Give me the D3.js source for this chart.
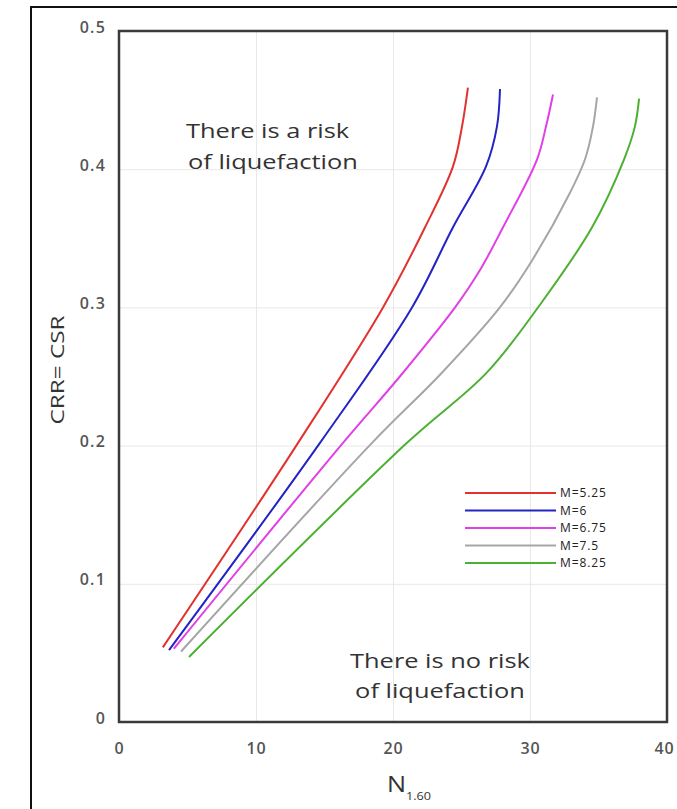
<!DOCTYPE html>
<html>
<head>
<meta charset="utf-8">
<script src="https://cdn.jsdelivr.net/npm/d3@7"></script>
<style>
  body { margin: 0; background: #fff; }
  text { font-family: "Open Sans", "DejaVu Sans", sans-serif; fill: #333; }
</style>
</head>
<body>
<div id="chart"></div>
<script>
// Data: [N1,60, CRR]
var seriesNames = ["M=5.25", "M=6", "M=6.75", "M=7.5", "M=8.25"];
var seriesColors = ["#e2322e", "#2424c4", "#e040e6", "#a6a6a6", "#4cb030"];

var m525 = [[3.2,0.054],[13.07,0.202],[19.27,0.300],[22.34,0.358],[24.38,0.402],[25.04,0.431],[25.47,0.459]];
var m6 = [[3.65,0.052],[14.67,0.202],[21.39,0.300],[24.38,0.358],[26.79,0.402],[27.59,0.431],[27.81,0.458]];
var m675 = [[4.0,0.053],[16.35,0.202],[20.5,0.250],[24.53,0.300],[26.35,0.327],[28.03,0.358],[30.51,0.407],[31.17,0.431],[31.68,0.454]];
var m75 = [[4.53,0.051],[18.47,0.202],[23.5,0.252],[27.8,0.300],[30.15,0.334],[32.92,0.383],[34.01,0.407],[34.6,0.431],[34.89,0.452]];
var m825 = [[5.11,0.047],[21.02,0.202],[26.86,0.253],[30.95,0.305],[34.53,0.358],[36.86,0.407],[37.66,0.431],[37.96,0.451]];
var seriesData = [m525, m6, m675, m75, m825];

var xTicks = [0, 10, 20, 30, 40];
var yTicks = [0, 0.1, 0.2, 0.3, 0.4, 0.5];

var svgWidth = 677;
var svgHeight = 809;
var plot = { left: 119, top: 31, right: 667, bottom: 722 };

var svg = d3.select("#chart")
  .append("svg")
  .attr("width", svgWidth)
  .attr("height", svgHeight);

// outer frame (runs off the right and bottom edges)
svg.append("rect")
  .attr("x", 31).attr("y", 7)
  .attr("width", 700).attr("height", 900)
  .attr("fill", "none")
  .attr("stroke", "#111")
  .attr("stroke-width", 2);

var x = d3.scaleLinear().domain([0, 40]).range([plot.left, plot.right]);
var y = d3.scaleLinear().domain([0, 0.5]).range([plot.bottom, plot.top]);

// gridlines
svg.append("g")
  .attr("transform", `translate(0, ${plot.bottom})`)
  .call(d3.axisBottom(x).tickValues([10, 20, 30]).tickSize(-(plot.bottom - plot.top)).tickFormat(""))
  .call(g => g.select(".domain").remove())
  .call(g => g.selectAll("line").attr("stroke", "#e8e8e8"));

svg.append("g")
  .attr("transform", `translate(${plot.left}, 0)`)
  .call(d3.axisLeft(y).tickValues([0.1, 0.2, 0.3, 0.4]).tickSize(-(plot.right - plot.left)).tickFormat(""))
  .call(g => g.select(".domain").remove())
  .call(g => g.selectAll("line").attr("stroke", "#e8e8e8"));

// tick labels
svg.append("g")
  .attr("transform", `translate(0, ${plot.bottom + 18})`)
  .call(d3.axisBottom(x).tickValues(xTicks).tickSize(0).tickFormat(d3.format("d")))
  .call(g => g.select(".domain").remove())
  .call(g => g.selectAll("text")
    .attr("font-family", null)
    .attr("dx", d => d === 40 ? -3 : 0)
    .style("font-size", "16px")
    .style("font-weight", "600")
    .style("letter-spacing", "0.8px")
    .style("fill", "#555"));

svg.append("g")
  .attr("transform", `translate(${plot.left - 10}, -4)`)
  .call(d3.axisLeft(y).tickValues(yTicks).tickSize(0).tickFormat(d => d === 0 ? "0" : d3.format(".1f")(d)))
  .call(g => g.select(".domain").remove())
  .call(g => g.selectAll("text")
    .attr("font-family", null)
    .style("font-size", "16px")
    .style("font-weight", "600")
    .style("letter-spacing", "1.2px")
    .style("fill", "#555"));

// curves
var line = d3.line()
  .x(d => x(d[0]))
  .y(d => y(d[1]))
  .curve(d3.curveCatmullRom.alpha(0.5));

svg.append("g")
  .selectAll("path")
  .data(seriesData)
  .enter()
  .append("path")
  .attr("d", line)
  .attr("fill", "none")
  .attr("stroke", (d, i) => seriesColors[i])
  .attr("stroke-width", 2);

// plot frame
svg.append("rect")
  .attr("x", plot.left).attr("y", plot.top)
  .attr("width", plot.right - plot.left)
  .attr("height", plot.bottom - plot.top)
  .attr("fill", "none")
  .attr("stroke", "#3a3a3a")
  .attr("stroke-width", 2.5);

// legend
var legend = svg.append("g")
  .attr("transform", "translate(465, 493)");

var legendRows = legend.selectAll("g")
  .data(seriesNames)
  .enter()
  .append("g")
  .attr("transform", (d, i) => `translate(0, ${i * 17.5})`);

legendRows.append("line")
  .attr("x1", 0).attr("x2", 91)
  .attr("stroke", (d, i) => seriesColors[i])
  .attr("stroke-width", 2);

legendRows.append("text")
  .attr("x", 95)
  .attr("dy", "0.35em")
  .style("font-size", "12px")
  .style("letter-spacing", "0.9px")
  .style("fill", "#222")
  .text(d => d);

// annotations (the picture's lettering is wide, so it is stretched along the line)
function note(px, py, anchor, str) {
  svg.append("text")
    .attr("transform", `translate(${px}, ${py}) scale(1.27, 1)`)
    .attr("text-anchor", anchor)
    .style("font-size", "20px")
    .text(str);
}
note(186, 138, "start", "There is a risk");
note(188, 169, "start", "of liquefaction");
note(440, 668, "middle", "There is no risk");
note(440, 698, "middle", "of liquefaction");

// axis titles
svg.append("text")
  .attr("transform", "translate(64, 370) rotate(-90) scale(1.35, 1)")
  .attr("text-anchor", "middle")
  .style("font-size", "18px")
  .text("CRR= CSR");

var xTitle = svg.append("text")
  .attr("transform", "translate(409, 792) scale(1.15, 1)")
  .attr("text-anchor", "middle")
  .style("font-size", "22px");
xTitle.append("tspan").text("N");
xTitle.append("tspan")
  .attr("dy", 8)
  .style("font-size", "11px")
  .text("1.60");
</script>
</body>
</html>
